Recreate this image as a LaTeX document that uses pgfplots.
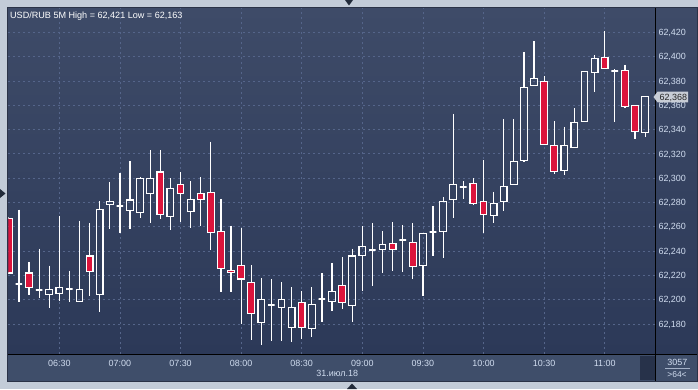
\documentclass[border=0pt]{standalone}
\usepackage{fontspec}
\setmainfont{Liberation Sans}
\usepackage{pgfplots}
\pgfplotsset{compat=1.18}
\definecolor{outer}{HTML}{C3CCD8}
\definecolor{framec}{HTML}{2B3347}
\definecolor{plottop}{HTML}{3E4B68}
\definecolor{plotbot}{HTML}{2C3958}
\definecolor{botpanel}{HTML}{3F4E6A}
\definecolor{darkbox}{HTML}{27324A}
\definecolor{gridc}{HTML}{55658A}
\definecolor{cred}{HTML}{DC143C}
\definecolor{labc}{HTML}{D0DCEF}
\definecolor{arrowc}{HTML}{222B3A}
\definecolor{markc}{HTML}{C8CDD6}
% candle: k, high, body top, body bottom, low, fill
\newcommand{\candle}[7]{%
  \pgfmathsetmacro{\xl}{#1-0.33}\pgfmathsetmacro{\xr}{#1+0.33}%
  \addplot[white, line width=1.2bp, unbounded coords=jump] coordinates {(#1,#2) (#1,#3) (#1,nan) (#1,#4) (#1,#5)};
  \addplot[draw=white, fill=#6, line width=#7, line join=miter] coordinates {(#1,#3) (\xr,#3) (\xr,#4) (\xl,#4) (\xl,#3) (#1,#3)};
}
\newcommand{\cR}[5]{\candle{#1}{#2}{#3}{#4}{#5}{cred}{1.2bp}}
\newcommand{\cW}[5]{\candle{#1}{#2}{#3}{#4}{#5}{none}{1.2bp}}
\newcommand{\cD}[4]{\candle{#1}{#2}{#3}{#3}{#4}{none}{2bp}}
\begin{document}
\begin{tikzpicture}[x=1bp,y=1bp]
\path[use as bounding box] (0,0) rectangle (698,389);
\fill[outer] (0,0) rectangle (698,389);
\fill[botpanel] (8,8) rectangle (697,34.7);
\fill[darkbox] (640,9) rectangle (655,33.5);
\shade[top color=plottop,bottom color=plotbot] (655.3,34.7) rectangle (697,381);
\begin{axis}[
  at={(8.3bp,34.7bp)}, anchor=south west, scale only axis,
  width=647bp, height=346.3bp,
  xmin=-5.05, xmax=59.01, ymin=62.15505, ymax=62.440,
  axis x line*=bottom, axis y line*=right,
  axis line style={black, line width=1bp, -},
  xtick={0,6,...,54},
  xticklabels={06:30,07:00,07:30,08:00,08:30,09:00,09:30,10:00,10:30,11:00},
  ytick={62.18,62.2,62.22,62.24,62.26,62.28,62.3,62.32,62.34,62.36,62.38,62.4,62.42},
  yticklabel pos=right,
  major tick length=0pt,
  grid=major,
  major grid style={dash pattern=on 2bp off 3bp, color=gridc, line width=0.8bp},
  tick label style={font=\fontsize{9}{10}\selectfont, text=labc},
  xticklabel style={anchor=base, yshift=-11.7bp},
  yticklabel style={anchor=base west, inner sep=0pt, xshift=3bp, yshift=-3.2bp},
  /pgf/number format/fixed, /pgf/number format/fixed zerofill,
  /pgf/number format/precision=3, /pgf/number format/use comma,
  /pgf/number format/assume math mode=true,
  axis background/.style={top color=plottop, bottom color=plotbot},
]
\cR{-5}{62.268}{62.267}{62.222}{62.221}
\cD{-4}{62.274}{62.213}{62.198}
\cR{-3}{62.231}{62.222}{62.210}{62.204}
\cD{-2}{62.242}{62.208}{62.201}
\cW{-1}{62.228}{62.2085}{62.204}{62.193}
\cW{0}{62.269}{62.210}{62.205}{62.199}
\cD{1}{62.224}{62.209}{62.198}
\cW{2}{62.265}{62.2085}{62.1987}{62.1985}
\cR{3}{62.263}{62.236}{62.223}{62.203}
\cW{4}{62.281}{62.274}{62.204}{62.190}
\cW{5}{62.297}{62.281}{62.2785}{62.258}
\cD{6}{62.304}{62.277}{62.255}
\cW{7}{62.314}{62.282}{62.2735}{62.258}
\cW{8}{62.301}{62.300}{62.272}{62.267}
\cW{9}{62.323}{62.300}{62.2875}{62.263}
\cR{10}{62.323}{62.305}{62.270}{62.2666}
\cW{11}{62.300}{62.2916}{62.2686}{62.2576}
\cR{12}{62.305}{62.295}{62.2875}{62.264}
\cW{13}{62.2976}{62.2826}{62.2724}{62.259}
\cR{14}{62.301}{62.2875}{62.2823}{62.261}
\cR{15}{62.330}{62.288}{62.255}{62.241}
\cR{16}{62.283}{62.256}{62.2255}{62.206}
\cR{17}{62.261}{62.2242}{62.2222}{62.206}
\cR{18}{62.259}{62.228}{62.217}{62.180}
\cR{19}{62.2285}{62.214}{62.1885}{62.167}
\cW{20}{62.218}{62.2003}{62.181}{62.163}
\cD{21}{62.217}{62.196}{62.166}
\cW{22}{62.2145}{62.2003}{62.1937}{62.166}
\cW{23}{62.2104}{62.1937}{62.1773}{62.165}
\cR{24}{62.2071}{62.1978}{62.177}{62.168}
\cW{25}{62.2104}{62.1962}{62.1761}{62.1695}
\cD{26}{62.2217}{62.2003}{62.1819}
\cW{27}{62.2302}{62.2069}{62.1983}{62.1909}
\cR{28}{62.2351}{62.2118}{62.1975}{62.1926}
\cW{29}{62.2417}{62.236}{62.1954}{62.1819}
\cW{30}{62.2606}{62.2439}{62.2365}{62.2071}
\cD{31}{62.2631}{62.2406}{62.2113}
\cW{32}{62.2565}{62.2456}{62.2414}{62.2219}
\cR{33}{62.2639}{62.2464}{62.2414}{62.2236}
\cD{34}{62.2614}{62.2488}{62.2228}
\cR{35}{62.2631}{62.2472}{62.2271}{62.217}
\cW{36}{62.2546}{62.2546}{62.2279}{62.2033}
\cD{37}{62.2771}{62.2554}{62.2359}
\cW{38}{62.2842}{62.281}{62.256}{62.2343}
\cW{39}{62.3528}{62.2949}{62.2826}{62.2672}
\cD{40}{62.2976}{62.2929}{62.2828}
\cR{41}{62.3001}{62.2958}{62.2793}{62.2776}
\cR{42}{62.3149}{62.281}{62.2702}{62.2549}
\cW{43}{62.2886}{62.2793}{62.2694}{62.2631}
\cW{44}{62.3487}{62.2933}{62.281}{62.2732}
\cW{45}{62.3487}{62.3139}{62.2949}{62.2949}
\cW{46}{62.4038}{62.3747}{62.3147}{62.3133}
\cW{47}{62.4128}{62.3821}{62.3764}{62.3764}
\cR{48}{62.384}{62.3797}{62.3278}{62.327}
\cR{49}{62.347}{62.327}{62.3056}{62.3036}
\cW{50}{62.3421}{62.327}{62.3064}{62.3023}
\cW{51}{62.3577}{62.3459}{62.3254}{62.3254}
\cW{52}{62.3879}{62.3879}{62.3468}{62.3468}
\cW{53}{62.4013}{62.3986}{62.3871}{62.3711}
\cR{54}{62.421}{62.3994}{62.3904}{62.3896}
\cD{55}{62.3898}{62.3879}{62.3464}
\cR{56}{62.3931}{62.3887}{62.3591}{62.3575}
\cR{57}{62.360}{62.3599}{62.3385}{62.3324}
\cW{58}{62.3673}{62.3673}{62.3377}{62.3341}
\end{axis}
% separators and frame
\draw[black,line width=1bp] (655.3,8) -- (655.3,381);
\draw[black,line width=1bp] (8,34.7) -- (697,34.7);
\draw[framec,line width=1bp] (7.5,8) rectangle (697.5,381.5);
% UI arrows
\fill[arrowc] (345,389) -- (353,389) -- (349,383.5) -- cycle;
\fill[arrowc] (347,0) -- (357,0) -- (352,5.5) -- cycle;
\fill[arrowc] (0,200) -- (0,191) -- (5.5,195.5) -- cycle;
% texts
\node[anchor=base west,inner sep=0pt,text=white,font=\fontsize{9.1}{11}\selectfont] at (10,370.3) {USD/RUB 5M High = 62,421 Low = 62,163};
\node[anchor=base,inner sep=0pt,text=labc,font=\fontsize{9}{10}\selectfont] at (337.3,12.3) {31.июл.18};
\node[anchor=base,inner sep=0pt,text=labc,font=\fontsize{9}{10}\selectfont] at (677.3,23.3) {3057};
\draw[labc!70!botpanel,line width=0.8bp] (665,20.7) -- (690,20.7);
\node[anchor=base,inner sep=0pt,text=labc,font=\fontsize{8.5}{10}\selectfont] at (677,11.7) {>64<};
% price marker
\fill[markc] (653.5,292) -- (657.5,297.3) -- (688,297.3) -- (688,286.7) -- (657.5,286.7) -- cycle;
\node[anchor=base west,inner sep=0pt,text=black!85,font=\fontsize{9}{10}\selectfont] at (659.5,288.5) {62,368};
\end{tikzpicture}
\end{document}
